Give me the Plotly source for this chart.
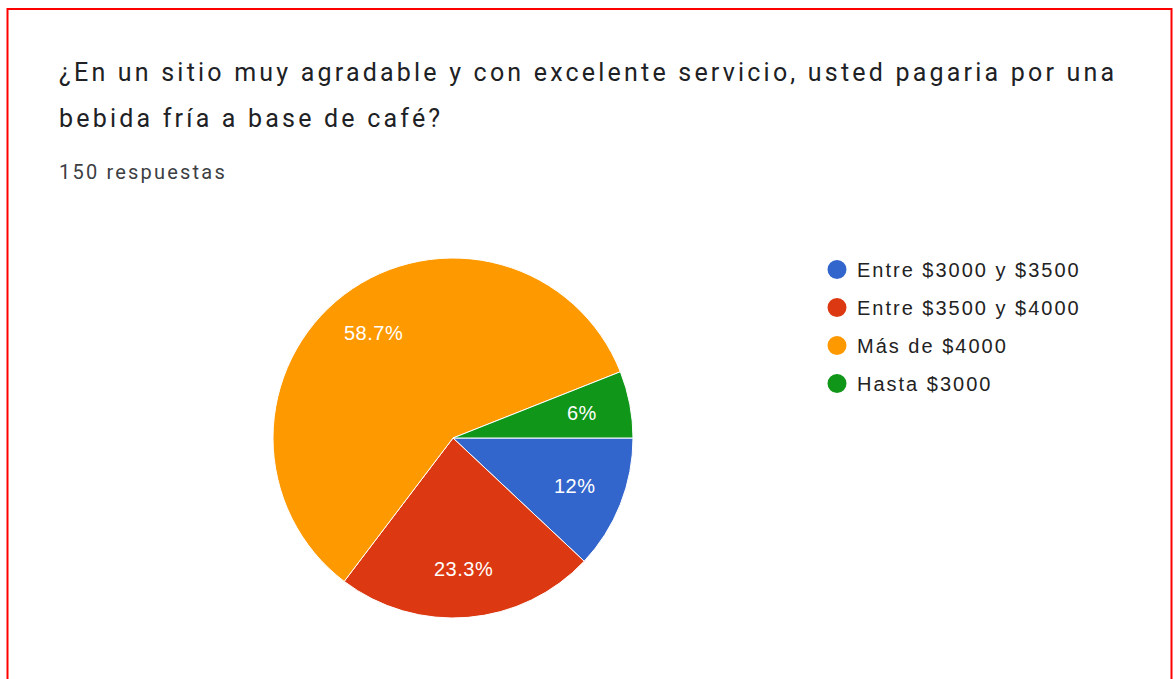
import math
import plotly.graph_objects as go

# Survey answers (150 responses), in the order the slices are drawn
categories = ["Entre $3000 y $3500", "Entre $3500 y $4000", "Más de $4000", "Hasta $3000"]
responses = [18, 35, 88, 9]
colors = ["#3366CC", "#DC3912", "#FF9900", "#109618"]

title_lines = [
    "¿En un sitio muy agradable y con excelente servicio, usted pagaria por una",
    "bebida fría a base de café?",
]
subtitle = "150 respuestas"

W, H = 1173, 679


def px(x):
    return x / W


def py(y):
    return 1 - y / H


def spaced(text, spacing):
    return f'<span style="letter-spacing:{spacing}px">{text}</span>'


# Pie geometry (pixels): centre and radius
CX, CY, R = 453, 438, 180
START_DEG = 0  # first slice starts at 3 o'clock and runs clockwise

fig = go.Figure()

fig.add_trace(go.Pie(
    labels=categories,
    values=responses,
    marker=dict(colors=colors, line=dict(color="white", width=1)),
    sort=False,
    direction="clockwise",
    rotation=90,
    textinfo="none",
    hoverinfo="label+value+percent",
    showlegend=False,
    domain=dict(x=[px(CX - R), px(CX + R)], y=[py(CY + R), py(CY - R)]),
))

# Percentage labels placed along each slice's mid-angle
total = sum(responses)
cum = 0
for v in responses:
    frac = v / total
    mid = 2 * math.pi * (cum + frac / 2) + math.radians(START_DEG)
    cum += frac
    lx = CX + 0.73 * R * math.cos(mid)
    ly = CY + 0.73 * R * math.sin(mid)
    fig.add_annotation(
        text=spaced(f"{frac * 100:.3g}%", 0.5),
        x=px(lx), y=py(ly), xref="paper", yref="paper",
        xanchor="center", yanchor="middle", showarrow=False,
        font=dict(family="Liberation Sans, Arial", size=20, color="white"),
    )

# Legend entries with round markers
for i, (name, col) in enumerate(zip(categories, colors)):
    fig.add_trace(go.Scatter(
        x=[None], y=[None], mode="markers", name=spaced(name, 2.0),
        legendgroup=f"g{i}",
        marker=dict(symbol="circle", size=16, color=col, line=dict(color=col, width=3)),
        hoverinfo="skip",
    ))

for line, ytop in zip(title_lines, [56, 102]):
    fig.add_annotation(
        text=spaced(line, 3.2),
        x=px(57), y=py(ytop), xref="paper", yref="paper",
        xanchor="left", yanchor="top", showarrow=False, align="left",
        font=dict(family="Roboto, Arial", size=25, color="#202124"),
    )

fig.add_annotation(
    text=spaced(subtitle, 2.2),
    x=px(57), y=py(158), xref="paper", yref="paper",
    xanchor="left", yanchor="top", showarrow=False, align="left",
    font=dict(family="Roboto, Arial", size=20, color="#3c4043"),
)

# Red frame around the card (bottom edge falls outside the page)
fig.add_shape(
    type="rect", xref="paper", yref="paper",
    x0=px(7.5), x1=px(1171.5), y0=-0.2, y1=py(9),
    line=dict(color="#ff0000", width=2), fillcolor="rgba(0,0,0,0)",
)

fig.update_layout(
    width=W, height=H,
    margin=dict(l=0, r=0, t=0, b=0),
    paper_bgcolor="white", plot_bgcolor="white",
    xaxis=dict(visible=False), yaxis=dict(visible=False),
    legend=dict(
        x=px(817), y=py(250), xanchor="left", yanchor="top",
        font=dict(family="Liberation Sans, Arial", size=20, color="#222222"),
        tracegroupgap=9, bgcolor="rgba(0,0,0,0)",
    ),
)

fig.write_html("out.html")
